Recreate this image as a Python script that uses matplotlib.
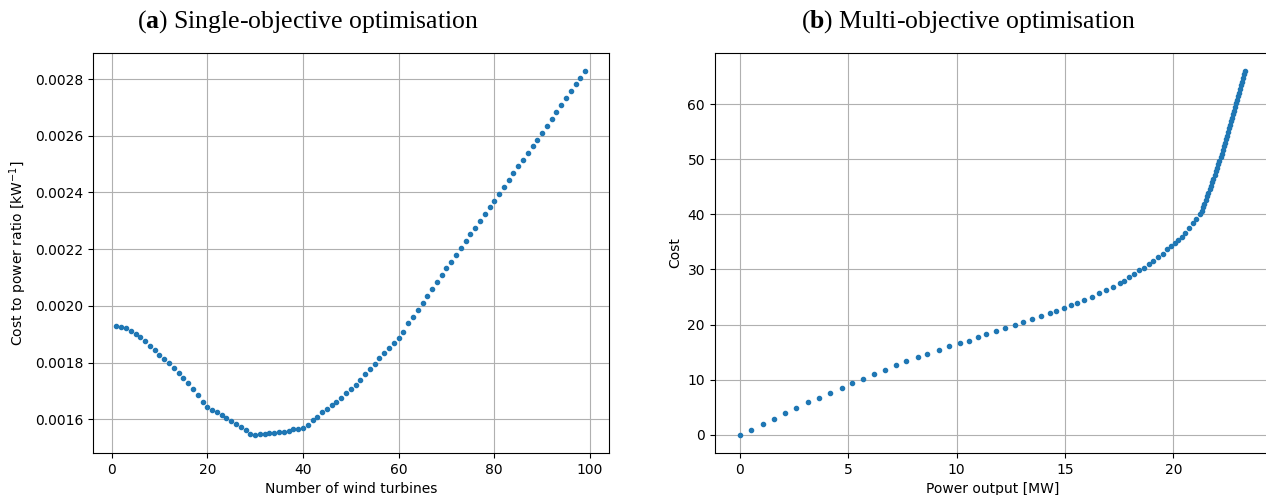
import numpy as np
import matplotlib
matplotlib.use("Agg")
import matplotlib.pyplot as plt

# mathtext: sans for the kW^-1 label, serif bold for the panel letters
plt.rcParams["mathtext.fontset"] = "custom"
plt.rcParams["mathtext.rm"] = "DejaVu Sans"
plt.rcParams["mathtext.bf"] = "Liberation Serif:bold"

# (a) single-objective: number of turbines vs cost/power ratio
n_turbines = list(range(1, 100))
cost_ratio = [
    0.001928, 0.001925, 0.001921, 0.001911, 0.001902, 0.001889, 0.001875, 0.001860, 0.001844, 0.001826,
    0.001813, 0.001798, 0.001781, 0.001764, 0.001744, 0.001726, 0.001706, 0.001685, 0.001662, 0.001642,
    0.001634, 0.001625, 0.001614, 0.001604, 0.001594, 0.001582, 0.001571, 0.001561, 0.001549, 0.001545,
    0.001547, 0.001549, 0.001551, 0.001553, 0.001555, 0.001556, 0.001559, 0.001564, 0.001567, 0.001569,
    0.001581, 0.001596, 0.001609, 0.001624, 0.001635, 0.001649, 0.001662, 0.001676, 0.001692, 0.001706,
    0.001722, 0.001740, 0.001760, 0.001778, 0.001795, 0.001815, 0.001833, 0.001852, 0.001868, 0.001886,
    0.001909, 0.001938, 0.001961, 0.001986, 0.002011, 0.002035, 0.002059, 0.002084, 0.002108, 0.002132,
    0.002156, 0.002180, 0.002205, 0.002228, 0.002252, 0.002274, 0.002299, 0.002324, 0.002347, 0.002369,
    0.002393, 0.002420, 0.002444, 0.002467, 0.002493, 0.002516, 0.002540, 0.002562, 0.002586, 0.002611,
    0.002635, 0.002659, 0.002684, 0.002707, 0.002732, 0.002756, 0.002781, 0.002805, 0.002829,
]

# (b) multi-objective: pareto front, power output [MW] vs cost
power_mw = [
    0.00, 0.53, 1.04, 1.57, 2.09, 2.58, 3.15, 3.64, 4.14, 4.69,
    5.18, 5.68, 6.19, 6.67, 7.19, 7.68, 8.20, 8.64, 9.16, 9.65,
    10.15, 10.56, 10.98, 11.37, 11.82, 12.24, 12.67, 13.08, 13.48, 13.87,
    14.29, 14.60, 14.93, 15.25, 15.56, 15.89, 16.26, 16.58, 16.89, 17.23,
    17.55, 17.74, 17.97, 18.20, 18.43, 18.63, 18.85, 19.06, 19.28, 19.50,
    19.72, 19.88, 20.05, 20.23, 20.38, 20.55, 20.72, 20.90, 21.06, 21.22,
    21.30, 21.36, 21.42, 21.48, 21.54, 21.60, 21.67, 21.73, 21.78, 21.84,
    21.90, 21.95, 22.00, 22.06, 22.11, 22.17, 22.22, 22.27, 22.33, 22.38,
    22.43, 22.48, 22.53, 22.58, 22.62, 22.67, 22.72, 22.76, 22.81, 22.85,
    22.90, 22.94, 22.99, 23.03, 23.08, 23.12, 23.16, 23.21, 23.26, 23.31,
]
cost = [
    0.00, 0.91, 1.94, 2.85, 3.94, 4.79, 5.88, 6.73, 7.64, 8.55,
    9.45, 10.18, 11.03, 11.76, 12.67, 13.33, 14.12, 14.61, 15.33, 16.06,
    16.61, 17.09, 17.82, 18.36, 18.91, 19.45, 20.00, 20.48, 21.09, 21.58,
    22.12, 22.48, 23.03, 23.52, 24.00, 24.55, 25.09, 25.70, 26.28, 26.91,
    27.48, 27.94, 28.55, 29.25, 29.82, 30.32, 31.06, 31.60, 32.28, 32.90,
    33.65, 34.22, 34.75, 35.35, 35.95, 36.65, 37.50, 38.40, 39.20, 40.00,
    40.65, 41.30, 41.95, 42.60, 43.25, 43.90, 44.55, 45.20, 45.85, 46.50,
    47.15, 47.80, 48.45, 49.10, 49.75, 50.40, 51.05, 51.70, 52.35, 53.00,
    53.65, 54.30, 54.95, 55.60, 56.25, 56.90, 57.55, 58.20, 58.85, 59.50,
    60.15, 60.80, 61.45, 62.10, 62.75, 63.40, 64.05, 64.70, 65.40, 66.06,
]

W, H = 1266, 495
fig = plt.figure(figsize=(W / 100, H / 100), dpi=100)

# axes placed in pixels (left, top, right, bottom)
def px_axes(l, t, r, b):
    return fig.add_axes([l / W, 1 - b / H, (r - l) / W, (b - t) / H])

ax1 = px_axes(93, 52.6, 608.6, 453)
ax2 = px_axes(714.7, 52.6, 1270.5, 453)

ax1.plot(n_turbines, cost_ratio, ".", color="#1f77b4")
ax1.grid(True)
ax1.set_xlabel("Number of wind turbines")
ax1.set_ylabel("Cost to power ratio [kW$^{-1}$]")

ax2.plot(power_mw, cost, ".", color="#1f77b4")
ax2.grid(True)
ax2.set_xlabel("Power output [MW]")
ax2.set_ylabel("Cost")

fig.text(308 / W, 1 - 22 / H, r"($\mathbf{a}$) Single-objective optimisation",
         ha="center", va="center", family="Liberation Serif", fontsize=18.5)
fig.text(968 / W, 1 - 22 / H, r"($\mathbf{b}$) Multi-objective optimisation",
         ha="center", va="center", family="Liberation Serif", fontsize=18.5)

fig.savefig("out.png", dpi=100)
